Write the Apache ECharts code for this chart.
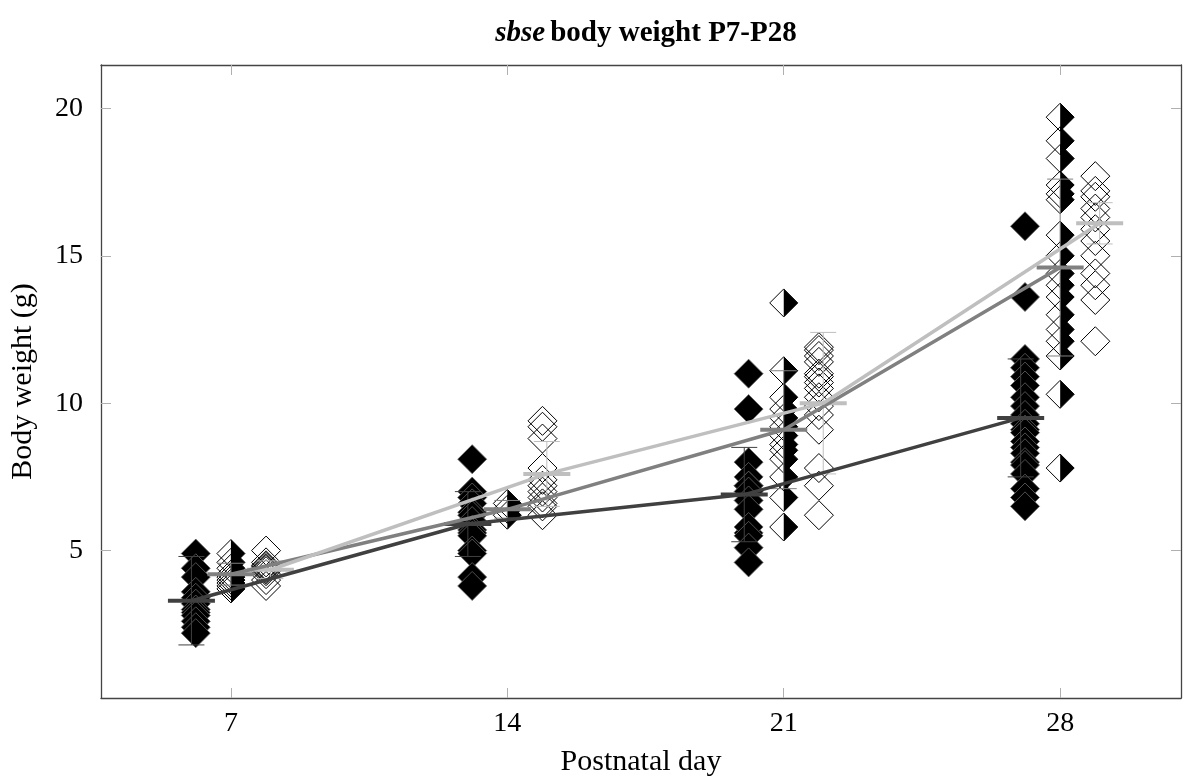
<!DOCTYPE html>
<html>
<head>
<meta charset="utf-8">
<script src="https://cdn.jsdelivr.net/npm/echarts@6/dist/echarts.min.js"></script>
<style>
  html, body { margin: 0; padding: 0; background: #fff; }
  #chart { width: 1184px; height: 782px; }
</style>
</head>
<body>
<div id="chart"></div>
<script>
// postnatal days
var days = [7, 14, 21, 28];
var dayTicks = [7, 14, 21, 28];
var weightTicks = [5, 10, 15, 20];

// body weight of each animal, one list per day (filled diamonds)
var wtBlack = [
  [4.9, 4.4, 4.1, 3.6, 3.4, 3.2, 3.0, 2.9, 2.8, 2.6, 2.4, 2.2],
  [8.1, 7.0, 6.8, 6.6, 6.3, 6.2, 6.0, 5.7, 5.6, 5.5, 5.0, 4.9, 4.1, 3.8],
  [11.0, 9.8, 8.0, 7.5, 7.2, 7.2, 7.0, 6.7, 6.4, 5.6, 5.8, 5.5, 5.1, 4.6],
  [16.0, 13.6, 11.5, 11.2, 10.9, 10.6, 10.2, 9.9, 9.6, 9.3, 9.1, 9.0, 8.7, 8.5, 8.3, 8.0, 7.9, 7.6, 7.1, 6.8, 6.5]
];
// half filled diamonds
var wtHalf = [
  [4.9, 4.6, 4.4, 4.2, 4.1, 4.0, 3.9, 3.8, 3.7],
  [6.6, 6.4, 6.2],
  [13.4, 11.1, 10.2, 9.8, 9.5, 9.2, 8.9, 8.6, 8.4, 8.1, 7.5, 6.8, 5.8],
  [19.7, 18.9, 18.3, 17.4, 17.1, 16.9, 15.7, 15.0, 14.4, 14.0, 13.6, 13.0, 12.5, 12.1, 11.6, 10.3, 7.8]
];
// open diamonds
var wtOpen = [
  [5.0, 4.6, 4.5, 4.45, 4.4, 4.35, 4.3, 4.2, 4.0, 3.8],
  [9.4, 9.2, 8.8, 7.8, 7.4, 7.2, 7.0, 6.8, 6.6, 6.5, 6.2],
  [11.9, 11.8, 11.6, 11.4, 11.0, 10.9, 10.7, 10.5, 10.2, 9.9, 9.6, 9.1, 7.8, 7.2, 6.2],
  [17.7, 17.2, 17.0, 16.6, 16.3, 15.9, 15.5, 15.0, 14.4, 14.0, 13.5, 12.1]
];

// mean and error bar per day
var meanBlack = [3.3, 5.9, 6.9, 9.5];
var errBlack = [1.5, 1.1, 1.6, 2.0];
var meanHalf = [4.2, 6.4, 9.1, 14.6];
var errHalf = [0.37, 0.3, 2.0, 3.0];
var meanOpen = [4.35, 7.6, 10.0, 16.1];
var errOpen = [0.3, 1.1, 2.4, 0.7];

var dotShift = 0.89;   // diamonds beside the day
var barShift = 1.0;    // mean bars beside the day
var FONT = 'Liberation Serif';

function points(list, shift){
  var out = [];
  for(let i = 0; i < days.length; i++){
    for(let j = 0; j < list[i].length; j++){
      out.push([days[i] + shift, list[i][j]]);
    }
  }
  return out;
}
function summary(mean, err, shift){
  let out = [];
  for(let i = 0; i < days.length; i++){
    out.push([days[i] + shift, mean[i], err[i]]);
  }
  return out;
}

function halfDiamond(params, api){
  let p = api.coord([api.value(0), api.value(1)]);
  let h = 14;
  return {
    type: 'group',
    children: [
      { type: 'polygon', shape: { points: [[p[0], p[1]-h], [p[0]+h, p[1]], [p[0], p[1]+h]] },
        style: { fill: '#000' } },
      { type: 'polygon', shape: { points: [[p[0], p[1]-h], [p[0]+h, p[1]], [p[0], p[1]+h], [p[0]-h, p[1]]] },
        style: { fill: 'none', stroke: '#000', lineWidth: 1 } }
    ]
  };
}

function errorBar(color){
  return function(params, api){
    let x = api.value(0), m = api.value(1), e = api.value(2);
    let top = api.coord([x, m + e]);
    let bot = api.coord([x, m - e]);
    let mid = api.coord([x, m]);
    let thin = { stroke: color, lineWidth: 1 };
    return {
      type: 'group',
      children: [
        { type: 'line', shape: { x1: top[0], y1: top[1], x2: bot[0], y2: bot[1] }, style: thin },
        { type: 'line', shape: { x1: top[0]-13, y1: top[1], x2: top[0]+13, y2: top[1] }, style: thin },
        { type: 'line', shape: { x1: bot[0]-13, y1: bot[1], x2: bot[0]+13, y2: bot[1] }, style: thin },
        { type: 'line', shape: { x1: mid[0]-23.5, y1: mid[1], x2: mid[0]+23.5, y2: mid[1] },
          style: { stroke: color, lineWidth: 4 } }
      ]
    };
  };
}

var groups = [
  { mean: meanBlack, err: errBlack, shift: -barShift, color: '#404040' },
  { mean: meanHalf, err: errHalf, shift: 0, color: '#808080' },
  { mean: meanOpen, err: errOpen, shift: barShift, color: '#bfbfbf' }
];

var series = [
  {
    type: 'scatter', z: 2, data: points(wtBlack, -dotShift),
    symbol: 'diamond', symbolSize: [29, 29],
    itemStyle: { color: '#000', borderColor: '#666', borderWidth: 0.8, opacity: 1 },
    silent: true
  },
  {
    type: 'custom', z: 2, data: points(wtHalf, 0), renderItem: halfDiamond, silent: true
  },
  {
    type: 'scatter', z: 2, data: points(wtOpen, dotShift),
    symbol: 'diamond', symbolSize: [29, 29],
    itemStyle: { color: 'rgba(0,0,0,0)', borderColor: '#000', borderWidth: 1, opacity: 1 },
    silent: true
  }
];
for(let g = 0; g < groups.length; g++){
  let grp = groups[g];
  series.push({
    type: 'custom', z: 3, data: summary(grp.mean, grp.err, grp.shift),
    renderItem: errorBar(grp.color), silent: true
  });
}
for(let g = 0; g < groups.length; g++){
  let grp = groups[g];
  let line = [];
  for(let i = 0; i < days.length; i++){
    line.push([days[i] + grp.shift, grp.mean[i]]);
  }
  series.push({
    type: 'line', z: 4, data: line, symbol: 'none', silent: true,
    lineStyle: { color: grp.color, width: 3.5 }
  });
}

var frameLine = { show: true, onZero: false, lineStyle: { color: '#444', width: 1.3 } };
var tickStyle = { color: '#b0b0b0', width: 1 };

var chart = echarts.init(document.getElementById('chart'), null, { renderer: 'canvas' });
chart.setOption({
  animation: false,
  backgroundColor: '#fff',
  title: {
    text: '{i|sbse} {b|body weight P7-P28}',
    left: 641, top: 14, textAlign: 'center',
    textStyle: {
      rich: {
        i: { fontFamily: FONT, fontSize: 29, fontWeight: 'bold', fontStyle: 'italic', color: '#000' },
        b: { fontFamily: FONT, fontSize: 29, fontWeight: 'bold', color: '#000' }
      }
    }
  },
  grid: { left: 99, right: 3, top: 65, bottom: 80 },
  xAxis: [
    {
      type: 'value', min: 3.71, max: 31.06, position: 'bottom',
      name: 'Postnatal day', nameLocation: 'middle', nameGap: 49,
      nameTextStyle: { fontFamily: FONT, fontSize: 30, color: '#000' },
      axisLine: frameLine,
      axisTick: { show: true, inside: true, length: 10, lineStyle: tickStyle, customValues: dayTicks },
      axisLabel: { fontFamily: FONT, fontSize: 28, color: '#000', margin: 12, customValues: dayTicks },
      splitLine: { show: false }
    },
    {
      type: 'value', min: 3.71, max: 31.06, position: 'top',
      axisLine: frameLine,
      axisTick: { show: true, inside: true, length: 10, lineStyle: tickStyle, customValues: dayTicks },
      axisLabel: { show: false },
      splitLine: { show: false }
    }
  ],
  yAxis: [
    {
      type: 'value', min: 0, max: 21.47, position: 'left',
      name: 'Body weight (g)', nameLocation: 'middle', nameGap: 63, nameRotate: 90,
      nameTextStyle: { fontFamily: FONT, fontSize: 30, color: '#000' },
      axisLine: frameLine,
      axisTick: { show: true, inside: true, length: 10, lineStyle: tickStyle, customValues: weightTicks },
      axisLabel: { fontFamily: FONT, fontSize: 28, color: '#000', margin: 18, customValues: weightTicks },
      splitLine: { show: false }
    },
    {
      type: 'value', min: 0, max: 21.47, position: 'right',
      axisLine: frameLine,
      axisTick: { show: true, inside: true, length: 10, lineStyle: tickStyle, customValues: weightTicks },
      axisLabel: { show: false },
      splitLine: { show: false }
    }
  ],
  series: series
});
</script>
</body>
</html>
